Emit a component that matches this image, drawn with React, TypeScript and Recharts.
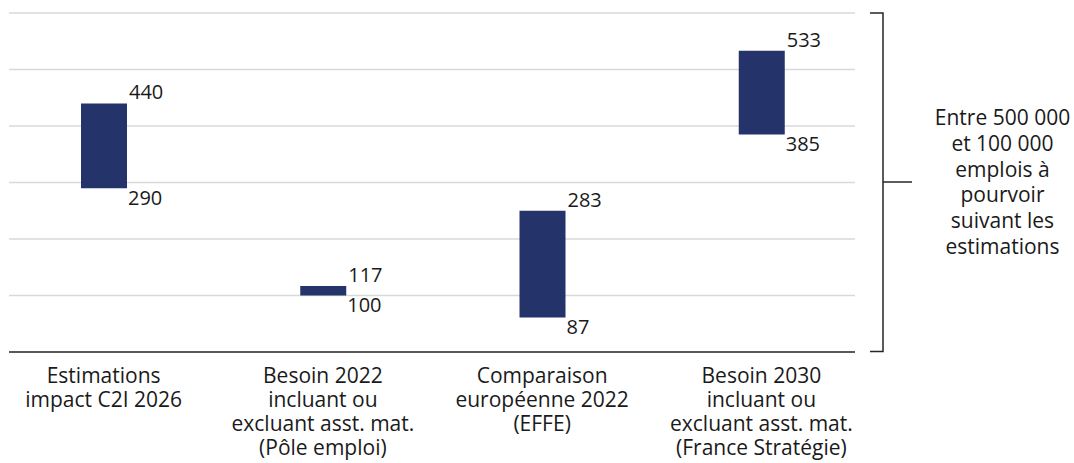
import { Bar, BarChart, CartesianGrid, LabelList, XAxis, YAxis } from "recharts";

const categories = [
	["Estimations", "impact C2I 2026"],
	["Besoin 2022", "incluant ou", "excluant asst. mat.", "(Pôle emploi)"],
	["Comparaison", "européenne 2022", "(EFFE)"],
	["Besoin 2030", "incluant ou", "excluant asst. mat.", "(France Stratégie)"],
];
// bar extents as drawn in the picture (the third bar sits lower than its labels say)
const lowValues = [290, 100, 61, 385];
const highValues = [440, 117, 250, 533];
// numbers printed next to the bars
const lowLabels = ["290", "100", "87", "385"];
const highLabels = ["440", "117", "283", "533"];
const yTicks = [0, 100, 200, 300, 400, 500, 600];
const noteLines = [
	"Entre 500 000",
	"et 100 000",
	"emplois à",
	"pourvoir",
	"suivant les",
	"estimations",
];

const FONT = "'Open Sans', 'Noto Sans', sans-serif";
const TEXT = "#1a1a1a";

const data = categories.map((lines, i) => ({
	name: lines.join(" "),
	lines,
	lowLabel: lowLabels[i],
	highLabel: highLabels[i],
	range: [lowValues[i], highValues[i]],
}));

function CategoryTick(props: any) {
	const { x, y, index } = props;
	const lines = data[index]?.lines ?? [];
	return (
		<g>
			{lines.map((line, i) => (
				<text
					key={i}
					x={x}
					y={y + 31 + i * 24}
					textAnchor="middle"
					fontFamily={FONT}
					fontSize={21}
					fill={TEXT}
				>
					{line}
				</text>
			))}
		</g>
	);
}

function topLabel(props: any) {
	const { x, y, width, height, value } = props;
	const top = Math.min(y, y + height);
	return (
		<text
			x={x + width + 2}
			y={top - 4}
			fontFamily={FONT}
			fontSize={20}
			fill={TEXT}
		>
			{value}
		</text>
	);
}

function bottomLabel(props: any) {
	const { x, y, width, height, value } = props;
	const bottom = Math.max(y, y + height);
	return (
		<text
			x={x + width + 1}
			y={bottom + 16.5}
			fontFamily={FONT}
			fontSize={20}
			fill={TEXT}
		>
			{value}
		</text>
	);
}

export default function App() {
	return (
		<div
			style={{
				position: "absolute",
				left: 0,
				top: 0,
				width: 1074,
				height: 463,
				background: "#fff",
				fontFamily: FONT,
			}}
		>
			<BarChart
				width={1074}
				height={463}
				data={data}
				margin={{ top: 13, right: 219, bottom: 0, left: 9 }}
			>
				<CartesianGrid
					vertical={false}
					stroke="#d9d9d9"
					strokeWidth={1.3}
				/>
				<XAxis
					dataKey="name"
					padding={{ left: -15, right: -16 }}
					axisLine={{ stroke: "#595959", strokeWidth: 2 }}
					tickLine={false}
					tickSize={0}
					tickMargin={0}
					interval={0}
					height={111}
					tick={<CategoryTick />}
				/>
				<YAxis hide domain={[0, 600]} ticks={yTicks} width={0} />
				<Bar
					dataKey="range"
					fill="#25336b"
					barSize={46}
					isAnimationActive={false}
				>
					<LabelList dataKey="highLabel" content={topLabel} />
					<LabelList dataKey="lowLabel" content={bottomLabel} />
				</Bar>
			</BarChart>
			<svg
				width={1074}
				height={463}
				style={{ position: "absolute", left: 0, top: 0, pointerEvents: "none" }}
			>
				<polyline
					points="870,13 883,13 883,351.5 870,351.5"
					fill="none"
					stroke="#262626"
					strokeWidth={1.5}
				/>
				<line x1={883} y1={182} x2={912} y2={182} stroke="#262626" strokeWidth={1.5} />
			</svg>
			<div
				style={{
					position: "absolute",
					left: 925,
					top: 105,
					width: 155,
					textAlign: "center",
					fontSize: 21,
					lineHeight: "25.8px",
					color: TEXT,
				}}
			>
				{noteLines.map((line, i) => (
					<div key={i}>{line}</div>
				))}
			</div>
		</div>
	);
}
